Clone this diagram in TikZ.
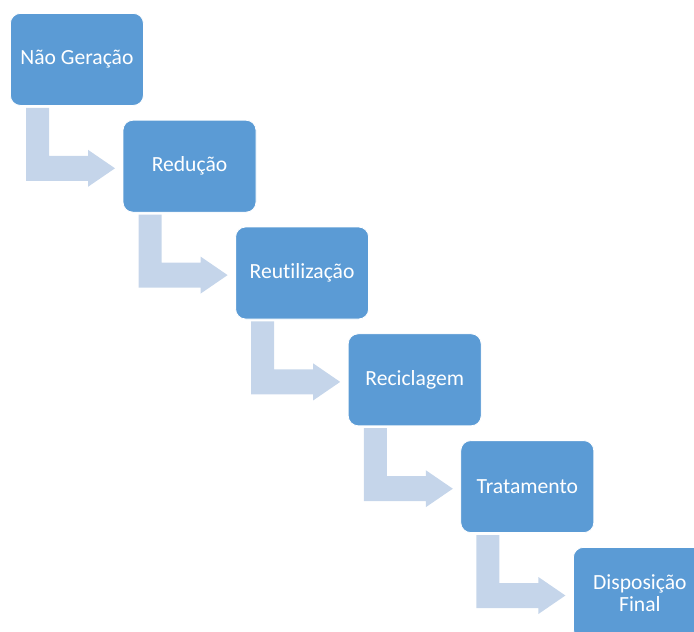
\documentclass[tikz,border=0pt]{standalone}
\usepackage{fontspec}
\setmainfont{Carlito}[Ligatures=NoCommon]
\definecolor{stepblue}{HTML}{5B9BD5}
\definecolor{arrowblue}{HTML}{C5D5EA}

\tikzset{
  stage/.style={draw=white,line width=0.6pt,fill=stepblue,rounded corners=7.5pt,
    minimum width=99.75pt,minimum height=69pt,inner sep=0pt,anchor=north west,
    text=white,align=center,font=\fontsize{16.2pt}{16.8pt}\selectfont},
  bentarrow/.style={fill=arrowblue,draw=none}
}

\begin{document}
\begin{tikzpicture}[x=0.75pt,y=-0.75pt]
        \useasboundingbox (0,0) rectangle (694,632);
        \clip (0,0) rectangle (694,632);

        \node[stage] (s1) at (10,13) {Não Geração};
        \node[stage] (s2) at (122.6,119.8) {Redução};
        \node[stage] (s3) at (235.2,226.6) {Reutilização};
        \node[stage] (s4) at (347.8,333.4) {Reciclagem};
        \node[stage] (s5) at (460.4,440.2) {Tratamento};
        \node[stage] (s6) at (573,547) {Disposição\\Final};

        % bent arrows between the stages
        \foreach \i in {1,...,5} {
          \begin{scope}[shift={(s\i.south west)}]
            \fill[bentarrow] (16,2) -- (39,2) -- (39,50) -- (78,50) -- (78,44)
              -- (105,62.5) -- (78,81) -- (78,75) -- (16,75) -- cycle;
          \end{scope}
        }
      \end{tikzpicture}
\end{document}
